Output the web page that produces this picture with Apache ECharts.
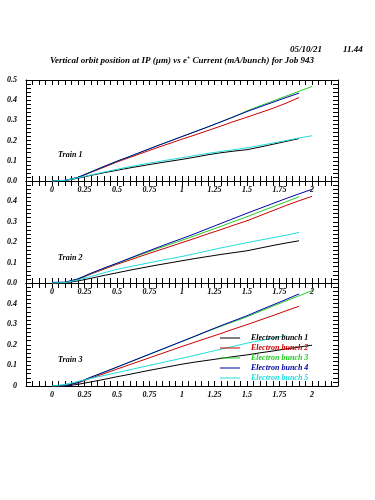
<!DOCTYPE html>
<html>
<head>
<meta charset="utf-8">
<script src="https://cdn.jsdelivr.net/npm/echarts@6/dist/echarts.min.js"></script>
<style>html,body{margin:0;padding:0;background:#fff}#c{width:375px;height:500px}</style>
</head>
<body>
<div id="c"></div>
<script>
// e+ current (mA/bunch) sample points
const currents = [0, 0.1, 0.2, 0.3, 0.4, 0.5, 0.6, 0.7, 0.8, 0.9, 1.0, 1.1, 1.2, 1.3, 1.4, 1.5, 1.6, 1.7, 1.8, 1.9, 2.0];
const bunchNames = ['Electron bunch 1', 'Electron bunch 2', 'Electron bunch 3', 'Electron bunch 4', 'Electron bunch 5'];
const trainNames = ['Train 1', 'Train 2', 'Train 3'];
const xTickLabels = ['0', '0.25', '0.5', '0.75', '1', '1.25', '1.5', '1.75', '2'];
const yTickLabelsTrain1 = ['0.0', '0.1', '0.2', '0.3', '0.4', '0.5'];
const yTickLabelsTrain2 = ['0.0', '0.1', '0.2', '0.3', '0.4', ''];
const yTickLabelsTrain3 = ['0', '0.1', '0.2', '0.3', '0.4', ''];

// Train 1
const t1b1 = [0, 0.002, 0.014, 0.028, 0.041, 0.053, 0.065, 0.076, 0.087, 0.097, 0.107, 0.118, 0.130, 0.140, 0.148, 0.155, 0.168, 0.182, 0.196, 0.210];
const t1b2 = [0, 0.003, 0.017, 0.043, 0.068, 0.094, 0.117, 0.140, 0.163, 0.185, 0.207, 0.228, 0.250, 0.272, 0.295, 0.316, 0.338, 0.360, 0.385, 0.413];
const t1b3 = [0, 0.003, 0.018, 0.045, 0.072, 0.098, 0.122, 0.147, 0.172, 0.196, 0.220, 0.244, 0.268, 0.293, 0.319, 0.347, 0.372, 0.396, 0.420, 0.444, 0.468];
const t1b4 = [0, 0.003, 0.018, 0.045, 0.072, 0.098, 0.122, 0.147, 0.172, 0.196, 0.220, 0.244, 0.268, 0.293, 0.318, 0.344, 0.367, 0.390, 0.413, 0.435];
const t1b5 = [0, 0.003, 0.016, 0.030, 0.044, 0.058, 0.071, 0.083, 0.094, 0.105, 0.115, 0.126, 0.137, 0.146, 0.155, 0.164, 0.176, 0.188, 0.200, 0.213, 0.224];
// Train 2
const t2b1 = [0, 0.001, 0.010, 0.023, 0.037, 0.050, 0.063, 0.075, 0.087, 0.098, 0.109, 0.120, 0.130, 0.140, 0.149, 0.158, 0.171, 0.184, 0.196, 0.207];
const t2b2 = [0, 0.002, 0.018, 0.044, 0.068, 0.092, 0.113, 0.135, 0.156, 0.177, 0.198, 0.219, 0.241, 0.262, 0.284, 0.305, 0.330, 0.355, 0.380, 0.403, 0.425];
const t2b3 = [0, 0.002, 0.020, 0.047, 0.072, 0.096, 0.120, 0.143, 0.166, 0.188, 0.210, 0.232, 0.255, 0.278, 0.302, 0.325, 0.350, 0.374, 0.398, 0.423];
const t2b4 = [0.003, 0.004, 0.020, 0.048, 0.073, 0.097, 0.122, 0.147, 0.171, 0.195, 0.218, 0.242, 0.267, 0.292, 0.317, 0.342, 0.366, 0.390, 0.414, 0.437, 0.459];
const t2b5 = [0, 0.002, 0.015, 0.032, 0.050, 0.067, 0.080, 0.093, 0.106, 0.118, 0.130, 0.144, 0.158, 0.172, 0.185, 0.198, 0.210, 0.222, 0.234, 0.248];
// Train 3
const t3b1 = [0, 0.000, 0.008, 0.020, 0.032, 0.045, 0.057, 0.070, 0.082, 0.094, 0.106, 0.116, 0.125, 0.134, 0.143, 0.151, 0.161, 0.170, 0.180, 0.189, 0.198];
const t3b2 = [0, 0.002, 0.015, 0.038, 0.060, 0.082, 0.104, 0.126, 0.148, 0.170, 0.192, 0.213, 0.234, 0.255, 0.277, 0.298, 0.320, 0.342, 0.365, 0.387];
const t3b3 = [0, 0.002, 0.018, 0.043, 0.067, 0.091, 0.116, 0.141, 0.166, 0.191, 0.216, 0.241, 0.266, 0.290, 0.313, 0.336, 0.362, 0.388, 0.413, 0.438, 0.463];
const t3b4 = [0, 0.000, 0.017, 0.043, 0.067, 0.092, 0.117, 0.142, 0.167, 0.192, 0.217, 0.242, 0.268, 0.293, 0.317, 0.341, 0.368, 0.394, 0.420, 0.447];
const t3b5 = [0, 0.008, 0.022, 0.037, 0.051, 0.065, 0.079, 0.093, 0.107, 0.121, 0.135, 0.149, 0.164, 0.179, 0.193, 0.208, 0.220, 0.232, 0.245];

const trains = [[t1b1, t1b2, t1b3, t1b4, t1b5], [t2b1, t2b2, t2b3, t2b4, t2b5], [t3b1, t3b2, t3b3, t3b4, t3b5]];
const yLabelSets = [yTickLabelsTrain1, yTickLabelsTrain2, yTickLabelsTrain3];
const colors = ['#000000', '#cc0000', '#22cc22', '#0000aa', '#22dddd'];

const FONT = 'Liberation Serif';
const txt = { fontFamily: FONT, fontStyle: 'italic', fontWeight: 'bold', fontSize: 8, color: '#000' };

const grids = [
  { left: 26, right: 37, top: 80, height: 101 },
  { left: 26, right: 37, top: 181, height: 102 },
  { left: 26, right: 37, top: 283, height: 103 }
];

const xAxes = [], yAxes = [], series = [];
grids.forEach((g, gi) => {
  const tick = { show: true, inside: true, length: 5, lineStyle: { color: '#000', width: 1 } };
  const line = { show: true, onZero: false, lineStyle: { color: '#000', width: 1 } };
  xAxes.push({
    type: 'value', gridIndex: gi, position: 'bottom', min: -0.2, max: 2.2, interval: 0.05,
    axisLine: line, axisTick: tick, splitLine: { show: false },
    axisLabel: Object.assign({}, txt, {
      margin: 5, showMinLabel: true, showMaxLabel: true,
      formatter: v => {
        const k = Math.round(v * 4);
        if (Math.abs(v * 4 - k) < 1e-6 && k >= 0 && k < xTickLabels.length) return xTickLabels[k];
        return '';
      }
    })
  });
  xAxes.push({
    type: 'value', gridIndex: gi, position: 'top', min: -0.2, max: 2.2, interval: 0.05,
    axisLine: line, axisTick: tick, splitLine: { show: false }, axisLabel: { show: false }
  });
  const labs = yLabelSets[gi];
  yAxes.push({
    type: 'value', gridIndex: gi, position: 'left', min: 0, max: 0.5, interval: 0.02,
    axisLine: line, axisTick: tick, splitLine: { show: false },
    axisLabel: Object.assign({}, txt, {
      margin: 9, showMinLabel: true, showMaxLabel: true,
      formatter: v => {
        const k = Math.round(v * 10);
        if (Math.abs(v * 10 - k) < 1e-6 && k >= 0 && k < labs.length) return labs[k];
        return '';
      }
    })
  });
  yAxes.push({
    type: 'value', gridIndex: gi, position: 'right', min: 0, max: 0.5, interval: 0.02,
    axisLine: line, axisTick: tick, splitLine: { show: false }, axisLabel: { show: false }
  });
  trains[gi].forEach((vals, bi) => {
    series.push({
      type: 'line', name: bunchNames[bi], xAxisIndex: gi * 2, yAxisIndex: gi * 2,
      data: vals.map((v, i) => [currents[i], v]),
      symbol: 'none', showSymbol: false, animation: false, silent: true,
      lineStyle: { color: colors[bi], width: 1 }, itemStyle: { color: colors[bi] }
    });
  });
});

const trainLabelY = [151, 254, 356];
const graphics = trainNames.map((t, i) => ({
  type: 'text', left: 58, top: trainLabelY[i],
  style: { text: t, font: 'italic bold 8px "' + FONT + '"', fill: '#000' }
}));
graphics.push({
  type: 'text', left: 290, top: 45,
  style: { text: '05/10/21', font: 'italic bold 9px "' + FONT + '"', fill: '#000' }
});
graphics.push({
  type: 'text', left: 343, top: 45,
  style: { text: '11.44', font: 'italic bold 9px "' + FONT + '"', fill: '#000' }
});
graphics.push({
  type: 'text', left: 50, top: 55,
  style: {
    text: 'Vertical orbit position at IP (\u00b5m) vs e{s|+} Current (mA/bunch) for Job 943',
    font: 'italic bold 9px "' + FONT + '"', fill: '#000',
    rich: { s: { fontSize: 6, fontStyle: 'italic', fontWeight: 'bold', fontFamily: FONT, verticalAlign: 'top', padding: [0, 0, 5, 0] } }
  }
});

const chart = echarts.init(document.getElementById('c'), null, { renderer: 'canvas' });
chart.setOption({
  backgroundColor: '#ffffff',
  animation: false,
  grid: grids,
  xAxis: xAxes,
  yAxis: yAxes,
  series: series,
  legend: {
    orient: 'vertical', left: 220, top: 333, padding: 0, icon: 'rect',
    itemWidth: 20, itemHeight: 1, itemGap: 0,
    selectedMode: false,
    textStyle: Object.assign({}, txt, { lineHeight: 10, padding: [0, 0, 0, 6] }),
    data: bunchNames.map((n, i) => ({ name: n, textStyle: { color: colors[i] } }))
  },
  graphic: graphics
});
</script>
</body>
</html>
